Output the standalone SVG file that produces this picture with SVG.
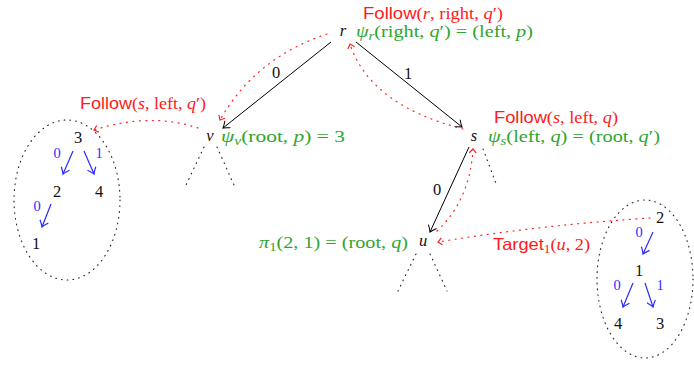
<svg xmlns="http://www.w3.org/2000/svg" width="694" height="365" viewBox="0 0 694 365">
<style>
text{font-family:"Liberation Serif","DejaVu Serif",serif;font-size:16.5px}
.i{font-style:italic}
.sf{font-family:"Liberation Sans","DejaVu Sans",sans-serif}
.red{fill:#ff1a1a}
.grn{fill:#2fa52f}
.blu{fill:#3030ff}
.blk{fill:#111}
.sub{font-size:12px}
.bl{font-size:14.5px}
.edge{stroke:#000;stroke-width:1;fill:none;marker-end:url(#ah)}
.bedge{stroke:#2a2aff;stroke-width:1.2;fill:none;marker-end:url(#bh)}
.rdot{stroke:#ff2020;stroke-width:1.2;fill:none;stroke-dasharray:1 5.5;stroke-linecap:round;marker-end:url(#rh)}
.kdot{stroke:#222;stroke-width:1.1;fill:none;stroke-dasharray:0.8 5;stroke-linecap:round}
</style>
<defs>
<marker id="ah" viewBox="-7 -5 9 10" refX="0" refY="0" markerWidth="9" markerHeight="10" markerUnits="userSpaceOnUse" orient="auto">
<path d="M-6,-4.5 Q-2,-1 0,0 Q-2,1 -6,4.5" fill="none" stroke="#000" stroke-width="1"/>
</marker>
<marker id="bh" viewBox="-7 -5 9 10" refX="0" refY="0" markerWidth="9" markerHeight="10" markerUnits="userSpaceOnUse" orient="auto">
<path d="M-6,-4.5 Q-2,-1 0,0 Q-2,1 -6,4.5" fill="none" stroke="#2a2aff" stroke-width="1.2"/>
</marker>
<marker id="rh" viewBox="-6 -5 8 10" refX="0" refY="0" markerWidth="8" markerHeight="10" markerUnits="userSpaceOnUse" orient="auto">
<path d="M-4,-3.5 L0,0 L-4,3.5" fill="none" stroke="#ff2020" stroke-width="1.2"/>
</marker>
</defs>

<g id="connectors">
<path class="edge" d="M331,42 L223,128"/>
<path class="edge" d="M356,42 L462,127"/>
<path class="edge" d="M469,147 L430,232"/>
<text x="276" y="78" class="blk" text-anchor="middle">0</text>
<text x="408" y="79" class="blk" text-anchor="middle">1</text>
<text x="437" y="195" class="blk" text-anchor="middle">0</text>
<path class="rdot" d="M327,34 Q255,58 220,120"/>
<path class="rdot" d="M198,128 Q150,112 94,130"/>
<path class="rdot" d="M463,129 Q370,105 350,44"/>
<path class="rdot" d="M437,231 Q470,200 473,149"/>
<path class="rdot" d="M650,218 Q540,225 438,242"/>
</g>

<g id="node-r">
<text x="343" y="36" class="blk i" text-anchor="middle">r</text>
<text x="363" y="19" class="red" textLength="140" lengthAdjust="spacingAndGlyphs"><tspan class="sf">Follow</tspan>(<tspan class="i">r</tspan>, right, <tspan class="i">q</tspan>′)</text>
<text x="356" y="37" class="grn" textLength="177" lengthAdjust="spacingAndGlyphs"><tspan class="i">ψ</tspan><tspan class="i sub" dy="3">r</tspan><tspan dy="-3">(right, </tspan><tspan class="i">q</tspan>′) = (left, <tspan class="i">p</tspan>)</text>
</g>

<g id="node-v">
<text x="210" y="141" class="blk i" text-anchor="middle">v</text>
<text x="221" y="142" class="grn" textLength="124" lengthAdjust="spacingAndGlyphs"><tspan class="i">ψ</tspan><tspan class="i sub" dy="3">v</tspan><tspan dy="-3">(root, </tspan><tspan class="i">p</tspan>) = 3</text>
<text x="80" y="109" class="red" textLength="126" lengthAdjust="spacingAndGlyphs"><tspan class="sf">Follow</tspan>(<tspan class="i">s</tspan>, left, <tspan class="i">q</tspan>′)</text>
<path class="kdot" d="M204,147 L186,185 M217,147 L234,185"/>
</g>

<g id="node-s">
<text x="474" y="141" class="blk i" text-anchor="middle">s</text>
<text x="488" y="142" class="grn" textLength="172" lengthAdjust="spacingAndGlyphs"><tspan class="i">ψ</tspan><tspan class="i sub" dy="3">s</tspan><tspan dy="-3">(left, </tspan><tspan class="i">q</tspan>) = (root, <tspan class="i">q</tspan>′)</text>
<text x="494" y="123" class="red" textLength="124" lengthAdjust="spacingAndGlyphs"><tspan class="sf">Follow</tspan>(<tspan class="i">s</tspan>, left, <tspan class="i">q</tspan>)</text>
<path class="kdot" d="M483,149 L497,186"/>
</g>

<g id="node-u">
<text x="423" y="246" class="blk i" text-anchor="middle">u</text>
<text x="259" y="248" class="grn" textLength="149" lengthAdjust="spacingAndGlyphs"><tspan class="i">π</tspan><tspan class="sub" dy="3">1</tspan><tspan dy="-3">(2, 1) = (root, </tspan><tspan class="i">q</tspan>)</text>
<text x="493" y="250" class="red" textLength="97" lengthAdjust="spacingAndGlyphs"><tspan class="sf">Target</tspan><tspan class="sub" dy="3">1</tspan><tspan dy="-3">(</tspan><tspan class="i">u</tspan>, 2)</text>
<path class="kdot" d="M416,254 L398,291 M430,254 L447,291"/>
</g>

<g id="tree-left">
<ellipse class="kdot" cx="67" cy="200" rx="53" ry="80"/>
<text x="78" y="143" class="blk" text-anchor="middle">3</text>
<text x="57" y="197" class="blk" text-anchor="middle">2</text>
<text x="99" y="197" class="blk" text-anchor="middle">4</text>
<text x="36" y="249" class="blk" text-anchor="middle">1</text>
<path class="bedge" d="M73,151 L63,174"/>
<path class="bedge" d="M84,151 L94,174"/>
<path class="bedge" d="M51,204 L42,227"/>
<text x="57" y="158" class="blu bl" text-anchor="middle">0</text>
<text x="99" y="158" class="blu bl" text-anchor="middle">1</text>
<text x="37" y="211" class="blu bl" text-anchor="middle">0</text>
</g>

<g id="tree-right">
<ellipse class="kdot" cx="645" cy="279" rx="48" ry="79"/>
<text x="660" y="223" class="blk" text-anchor="middle">2</text>
<text x="639" y="276" class="blk" text-anchor="middle">1</text>
<text x="618" y="329" class="blk" text-anchor="middle">4</text>
<text x="660" y="329" class="blk" text-anchor="middle">3</text>
<path class="bedge" d="M653,232 L643,254"/>
<path class="bedge" d="M633,283 L623,307"/>
<path class="bedge" d="M645,283 L653,307"/>
<text x="639" y="237" class="blu bl" text-anchor="middle">0</text>
<text x="617" y="290" class="blu bl" text-anchor="middle">0</text>
<text x="660" y="290" class="blu bl" text-anchor="middle">1</text>
</g>
</svg>
